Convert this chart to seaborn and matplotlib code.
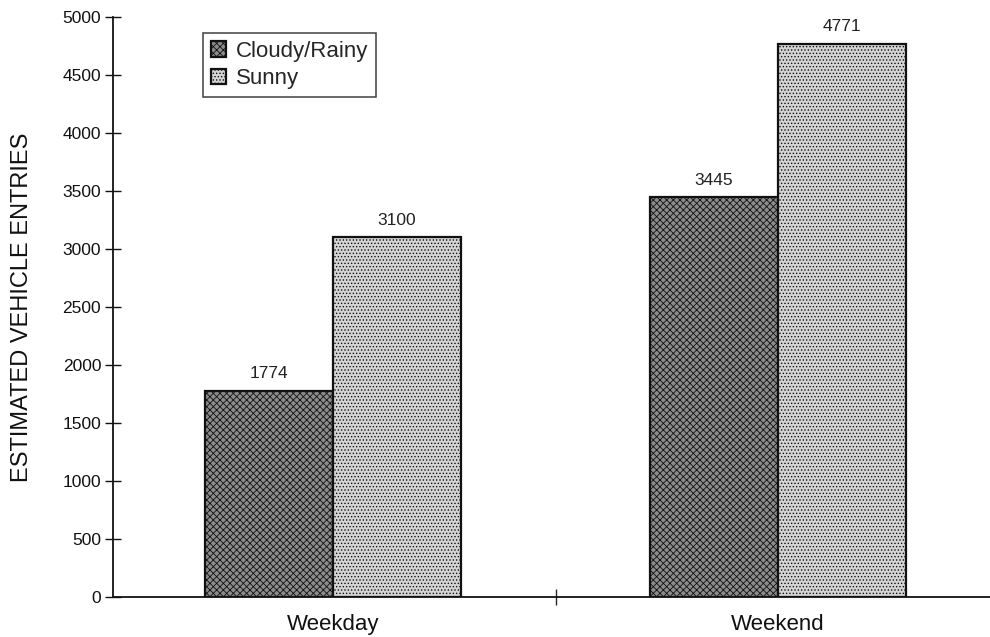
import matplotlib
matplotlib.use("Agg")
import matplotlib.pyplot as plt
import seaborn as sns
import pandas as pd

days = ["Weekday", "Weekend"]
weather = ["Cloudy/Rainy", "Sunny"]
cloudy_vals = [1774, 3445]
sunny_vals = [3100, 4771]

df = pd.DataFrame({
    "Day": days * 2,
    "Weather": [weather[0]] * 2 + [weather[1]] * 2,
    "Entries": cloudy_vals + sunny_vals,
})

sns.set_style("white")
plt.rcParams["font.family"] = ["Liberation Sans", "DejaVu Sans"]
plt.rcParams["hatch.color"] = "#222222"
plt.rcParams["hatch.linewidth"] = 0.6

W, H = 990, 637
fig = plt.figure(figsize=(W / 100, H / 100), dpi=100)
ax = fig.add_axes([113 / W, 1 - 597 / H, 877 / W, 580 / H])

colors = ["#8c8c8c", "#d4d4d4"]
sns.barplot(data=df, x="Day", y="Entries", hue="Weather", hue_order=weather,
            order=days, palette=colors, width=0.576, ax=ax, saturation=1,
            edgecolor="#111111", linewidth=1.6)

hatches = ["xxxxx", "....."]
for cont, h in zip(ax.containers, hatches):
    for p in cont:
        p.set_hatch(h)
    ax.bar_label(cont, labels=[str(int(v)) for v in cont.datavalues],
                 padding=7, fontsize=12.5, color="#222222")

ax.set_ylim(0, 5000)
ax.set_xlim(-0.494, 1.476)
ax.set_yticks(range(0, 5001, 500))
ax.tick_params(axis="y", direction="inout", length=11, width=1, labelsize=12.5,
               left=True, pad=3, colors="#111111")
ax.tick_params(axis="x", which="major", length=0, labelsize=16, pad=12,
               colors="#111111")
ax.set_xticks([0.5], minor=True)
ax.tick_params(axis="x", which="minor", direction="inout", length=11, width=1,
               bottom=True)
ax.set_xlabel("")
ax.set_ylabel("ESTIMATED VEHICLE ENTRIES", fontsize=17, color="#111111")
ax.yaxis.set_label_coords(-0.091, 0.5)

for s in ["top", "right"]:
    ax.spines[s].set_visible(False)
for s in ["left", "bottom"]:
    ax.spines[s].set_color("#111111")
    ax.spines[s].set_linewidth(1.3)

leg = ax.legend(title=None, loc="upper left",
                bbox_to_anchor=(203 / W, 1 - 33 / H),
                bbox_transform=fig.transFigure, borderaxespad=0,
                frameon=True, fancybox=False, fontsize=16, handlelength=0.7,
                handleheight=0.7, handletextpad=0.45, borderpad=0.35,
                labelspacing=0.3)
leg.get_frame().set_edgecolor("#111111")
leg.get_frame().set_linewidth(1.1)
for h, hh in zip(leg.legend_handles, hatches):
    h.set_hatch(hh)

fig.savefig("out.png", dpi=100)
